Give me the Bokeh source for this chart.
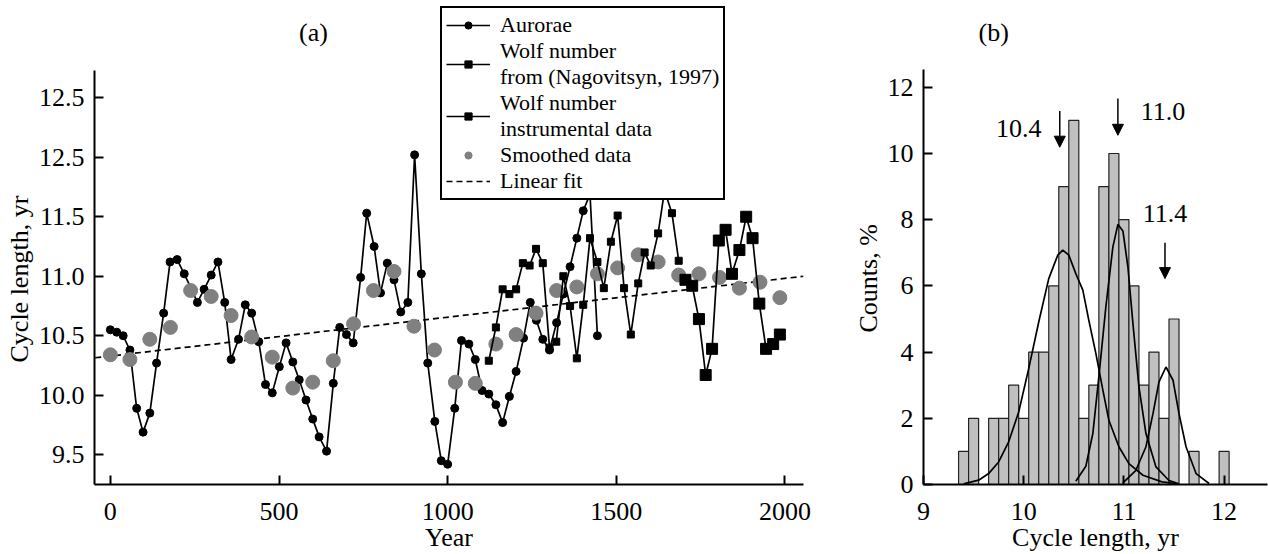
from bokeh.plotting import figure
from bokeh.layouts import row
from bokeh.models import (Range1d, Legend, LegendItem, Label, Arrow, NormalHead, Title,
                          FixedTicker, NumeralTickFormatter, ColumnDataSource)
from bokeh.core.properties import value
from bokeh.embed import file_html
from bokeh.resources import INLINE

FONT = "Liberation Serif"

# ---------------- Panel (a) data ----------------
aurora_years = [0, 19, 38, 58, 78, 97, 117, 137, 158, 177, 198, 219, 239, 258, 278, 299, 319,
                339, 358, 380, 400, 419, 440, 460, 480, 501, 521, 541, 560, 580, 600, 619, 641,
                661, 680, 700, 720, 742, 760, 782, 801, 821, 841, 861, 882, 902, 922, 941, 962,
                981, 1000, 1021, 1041, 1063, 1082, 1102, 1122, 1143, 1163, 1183, 1203, 1225,
                1245, 1263, 1282, 1302, 1323, 1343, 1363, 1383, 1402, 1422, 1444]
aurora_len = [10.55, 10.53, 10.50, 10.38, 9.89, 9.69, 9.85, 10.27, 10.69, 11.12, 11.14, 11.02,
              10.90, 10.78, 10.89, 11.01, 11.12, 10.78, 10.30, 10.47, 10.76, 10.69, 10.45, 10.09,
              10.02, 10.24, 10.44, 10.28, 10.13, 9.96, 9.80, 9.65, 9.53, 10.10, 10.57, 10.51,
              10.44, 10.99, 11.53, 11.25, 10.86, 11.11, 10.97, 10.70, 10.78, 12.02, 11.02, 10.27,
              9.78, 9.45, 9.42, 9.89, 10.46, 10.43, 10.30, 10.04, 10.01, 9.92, 9.77, 9.99, 10.20,
              10.48, 10.78, 10.63, 10.47, 10.38, 10.61, 10.85, 11.08, 11.32, 11.55, 11.69, 10.50]

nag_years = [1122, 1143, 1163, 1183, 1203, 1223, 1243, 1262, 1282, 1302, 1322, 1343, 1363, 1383,
             1402, 1422, 1444, 1463, 1484, 1504, 1523, 1543, 1565, 1584, 1602, 1624, 1643, 1665, 1685]
nag_len = [10.29, 10.57, 10.89, 10.85, 10.89, 11.11, 11.09, 11.23, 11.11, 10.40, 10.45, 11.00,
           10.75, 10.31, 10.76, 11.32, 11.12, 10.90, 11.29, 11.51, 10.90, 10.51, 10.94, 11.20,
           11.09, 11.36, 11.72, 11.53, 11.13]

instr_years = [1705, 1725, 1745, 1765, 1784, 1804, 1824, 1843, 1865, 1885, 1904, 1924, 1944, 1965, 1985]
instr_len = [10.97, 10.92, 10.64, 10.17, 10.39, 11.30, 11.39, 11.02, 11.22, 11.50, 11.32, 10.77,
             10.39, 10.43, 10.51]

smooth_years = [0, 58, 117, 178, 238, 299, 358, 419, 480, 541, 600, 661, 721, 780, 841, 900, 961,
                1023, 1082, 1143, 1203, 1262, 1323, 1383, 1444, 1504, 1565, 1624, 1685, 1745,
                1806, 1865, 1926, 1985]
smooth_len = [10.34, 10.30, 10.47, 10.57, 10.88, 10.83, 10.67, 10.49, 10.32, 10.06, 10.11, 10.29,
              10.60, 10.88, 11.04, 10.58, 10.38, 10.11, 10.10, 10.43, 10.51, 10.69, 10.88, 10.91,
              11.02, 11.07, 11.18, 11.12, 11.01, 11.02, 10.99, 10.90, 10.95, 10.82]

fit_years = [-45, 2055]
fit_len = [10.315, 11.00]

a_xticks = [0, 500, 1000, 1500, 2000]
a_yticks = [9.5, 10.0, 10.5, 11.0, 11.5, 12.0, 12.5]
a_ylabel_override = {12: "12.5"}

# ---------------- Panel (b) data ----------------
hist_centers = [9.4, 9.5, 9.6, 9.7, 9.8, 9.9, 10.0, 10.1, 10.2, 10.3, 10.4, 10.5, 10.6, 10.7,
                10.8, 10.9, 11.0, 11.1, 11.2, 11.3, 11.4, 11.5, 11.6, 11.7, 11.8, 11.9, 12.0]
hist_counts = [1, 2, 0, 2, 2, 3, 2, 4, 4, 6, 9, 11, 2, 3, 9, 10, 8, 6, 3, 4, 2, 5, 0, 1, 0, 0, 1]

g1_x = [9.40, 9.55, 9.65, 9.75, 9.85, 9.95, 10.05, 10.15, 10.25, 10.34, 10.39, 10.45, 10.52,
        10.59, 10.65, 10.72, 10.79, 10.85, 10.95, 11.05, 11.19, 11.38, 11.52]
g1_y = [0.02, 0.13, 0.33, 0.68, 1.29, 2.19, 3.50, 4.91, 6.22, 6.93, 7.08, 6.93, 6.37, 5.87,
        4.96, 3.96, 2.85, 1.94, 1.14, 0.63, 0.28, 0.08, 0.03]
g2_x = [10.52, 10.62, 10.69, 10.75, 10.82, 10.89, 10.94, 10.99, 11.04, 11.09, 11.15, 11.22,
        11.32, 11.45, 11.55]
g2_y = [0.10, 0.55, 1.54, 3.25, 5.37, 7.18, 7.86, 7.66, 6.57, 4.86, 2.95, 1.54, 0.53, 0.12, 0.02]
g3_x = [10.99, 11.12, 11.22, 11.29, 11.35, 11.42, 11.49, 11.55, 11.62, 11.72, 11.85]
g3_y = [0.05, 0.43, 1.14, 2.14, 3.10, 3.55, 3.15, 2.14, 1.14, 0.33, 0.03]

peak_labels = ["10.4", "11.0", "11.4"]
peak_label_x = [9.95, 11.39, 11.41]
peak_label_y = [10.76, 11.26, 8.19]
arrow_x = [10.36, 10.94, 11.41]
arrow_y_start = [11.28, 11.66, 7.30]
arrow_y_end = [10.19, 10.55, 6.22]

b_xticks = [9, 10, 11, 12]
b_yticks = [0, 2, 4, 6, 8, 10, 12]


def style_axes(p, xlabel, ylabel, ylabel_offset):
    for ax in (p.xaxis[0], p.yaxis[0]):
        ax.axis_line_width = 2
        ax.axis_line_color = "black"
        ax.major_tick_line_width = 2
        ax.major_tick_line_color = "black"
        ax.major_tick_in = 9
        ax.major_tick_out = 0
        ax.minor_tick_line_color = None
        ax.major_label_text_font = FONT
        ax.major_label_text_font_size = "26px"
        ax.major_label_text_color = "black"
        ax.axis_label_text_font = FONT
        ax.axis_label_text_font_size = "26px"
        ax.axis_label_text_font_style = "normal"
        ax.axis_label_text_color = "black"
    p.xaxis[0].axis_label = xlabel
    p.xaxis[0].major_label_standoff = 18
    p.xaxis[0].axis_label_standoff = 0
    p.yaxis[0].major_label_standoff = 10
    p.xgrid.visible = False
    p.ygrid.visible = False
    p.outline_line_color = None
    # y-axis label as a side title so it can be centred on the visible axis span
    p.add_layout(Title(text=ylabel, align="left", offset=ylabel_offset, standoff=4,
                       text_font=FONT, text_font_size="26px", text_font_style="normal",
                       text_color="black", vertical_align="bottom"), "left")


# ---------------- Panel (a) ----------------
pa = figure(width=830, height=554, output_backend="svg", toolbar_location=None,
            x_range=Range1d(-47, 2055), y_range=Range1d(9.25, 13.317),
            min_border_left=91, min_border_right=27, min_border_top=0, min_border_bottom=70)
style_axes(pa, "Year", "Cycle length, yr", 122)
pa.yaxis[0].bounds = (9.25, 12.73)
pa.xaxis[0].ticker = FixedTicker(ticks=a_xticks)
pa.yaxis[0].ticker = FixedTicker(ticks=a_yticks)
pa.yaxis[0].formatter = NumeralTickFormatter(format="0.0")
pa.yaxis[0].major_label_overrides = a_ylabel_override

fit_r = pa.line(fit_years, fit_len, line_color="black", line_width=1.7, line_dash="6 4")
a_line = pa.line(aurora_years, aurora_len, line_color="black", line_width=1.7)
a_pts = pa.scatter(aurora_years, aurora_len, marker="circle", size=8,
                   fill_color="black", line_color="black")
s_pts = pa.scatter(smooth_years, smooth_len, marker="circle", size=14,
                   fill_color="#808080", line_color="#808080")
n_line = pa.line(nag_years, nag_len, line_color="black", line_width=1.7)
n_pts = pa.scatter(nag_years, nag_len, marker="square", size=7,
                   fill_color="black", line_color="black")
i_line = pa.line(instr_years, instr_len, line_color="black", line_width=1.7)
i_pts = pa.scatter(instr_years, instr_len, marker="square", size=11,
                   fill_color="black", line_color="black")

legend = Legend(items=[
    LegendItem(label="Aurorae", renderers=[a_line, a_pts]),
    LegendItem(label="Wolf number\nfrom (Nagovitsyn, 1997)", renderers=[n_line, n_pts]),
    LegendItem(label="Wolf number\ninstrumental data", renderers=[i_line, i_pts]),
    LegendItem(label="Smoothed data", renderers=[s_pts]),
    LegendItem(label="Linear fit", renderers=[fit_r]),
], location=(346, 284))
legend.level = "underlay"
legend.border_line_color = "black"
legend.border_line_alpha = 1.0
legend.border_line_width = 2.5
legend.background_fill_color = "white"
legend.background_fill_alpha = 1
legend.padding = 4
legend.spacing = 0
legend.margin = 0
legend.glyph_width = 44
legend.glyph_height = 18
legend.label_height = 18
legend.label_standoff = 10
legend.label_text_font = FONT
legend.label_text_font_style = "normal"
legend.label_text_font_size = "22px"
legend.label_text_color = "black"
pa.add_layout(legend)

pa.add_layout(Label(x=602, y=13.05, text="(a)", text_font=FONT, text_font_size="26px",
                    text_align="center", text_baseline="middle", text_color="black"))

# ---------------- Panel (b) ----------------
pb = figure(width=438, height=554, output_backend="svg", toolbar_location=None,
            x_range=Range1d(9, 12.433), y_range=Range1d(0, 14.622),
            min_border_left=93, min_border_right=1, min_border_top=0, min_border_bottom=70)
style_axes(pb, "Cycle length, yr", "Counts, %", 152)
pb.yaxis[0].bounds = (0, 12.53)
pb.xaxis[0].ticker = FixedTicker(ticks=b_xticks)
pb.yaxis[0].ticker = FixedTicker(ticks=b_yticks)

pb.vbar(x=hist_centers, top=hist_counts, width=0.1, bottom=0,
        fill_color="#c0c0c0", line_color="#222222", line_width=1.2)
pb.line(g1_x, g1_y, line_color="black", line_width=1.7)
pb.line(g2_x, g2_y, line_color="black", line_width=1.7)
pb.line(g3_x, g3_y, line_color="black", line_width=1.7)

arr_src = ColumnDataSource(dict(x0=arrow_x, y0=arrow_y_start, x1=arrow_x, y1=arrow_y_end))
pb.add_layout(Arrow(x_start="x0", y_start="y0", x_end="x1", y_end="y1", source=arr_src,
                    line_color="black", line_width=1.5,
                    end=NormalHead(size=11, fill_color="black", line_color="black")))
pb.text(x=peak_label_x, y=peak_label_y, text=peak_labels, text_font=value(FONT),
        text_font_size="26px", text_align="center", text_baseline="middle", text_color="black")

pb.add_layout(Label(x=9.70, y=13.66, text="(b)", text_font=FONT, text_font_size="26px",
                    text_align="center", text_baseline="middle", text_color="black"))

layout = row(pa, pb)
open("out.html", "w").write(file_html(layout, INLINE))
